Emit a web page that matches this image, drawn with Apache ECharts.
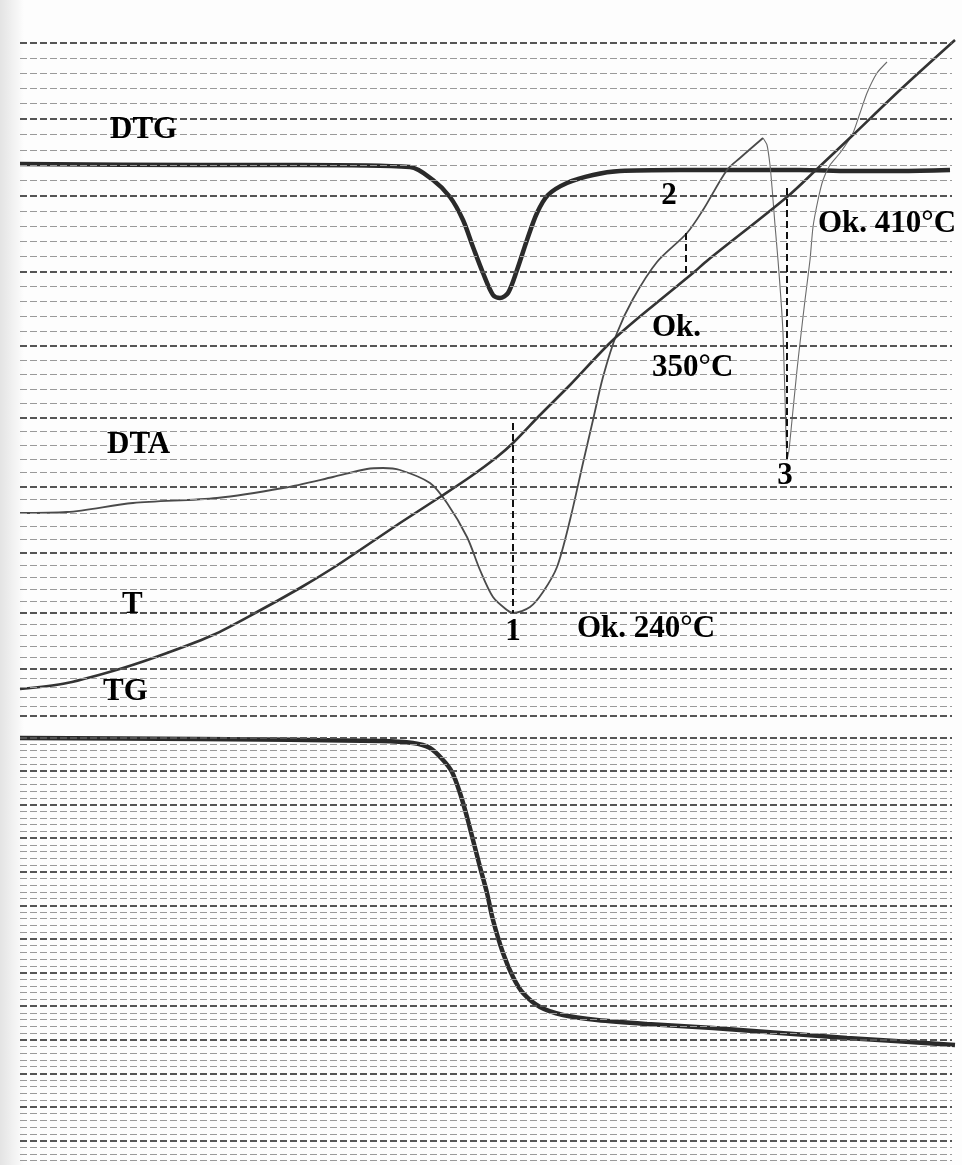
<!DOCTYPE html>
<html>
<head>
<meta charset="utf-8">
<title>DTG / DTA / T / TG</title>
<script src="https://cdn.jsdelivr.net/npm/echarts@6/dist/echarts.min.js"></script>
<style>
  html, body { margin: 0; padding: 0; background: #fff; }
  #main { width: 962px; height: 1165px; }
</style>
</head>
<body>
<div id="main"></div>
<script type="text/javascript">
// chart paper is read as one coordinate frame: x across, y down the sheet
// DTG (thick, top)
var dtgCurve = [[20,164],[200,165],[300,165],[410,167],[433,180],[450,197],[463,220],[473,247],
  [483,273],[493,295],[500,298],[508,293],[517,270],[527,240],[537,213],[548,195],[567,183],
  [593,175],[620,171],[680,170],[760,170],[800,170],[850,171],[900,171],[950,170]];
// DTA (thin)
var dtaCurve = [[20,513],[67,512],[133,503],[217,498],[283,488],[333,477],[367,469],[383,468],
  [400,470],[430,483],[447,503],[467,537],[480,570],[493,597],[507,610],[513,613],[530,607],
  [543,592],[557,567],[570,520],[583,463],[593,420],[603,377],[617,333],[633,299],[657,262],
  [687,233],[703,210],[727,170],[740,158],[763,138]];
// DTA sharp peak 3
var dtaPeak3 = [[763,138],[767,145],[770,165],[772,187],[775,225],[778,260],[781,300],[783,333],
  [785,397],[787,460],[789,450],[793,410],[797,370],[800,343],[805,300],[810,260],[813,227],
  [818,200],[823,180],[830,165],[840,153],[853,133],[860,113],[867,93],[877,73],[887,62]];
// T (temperature)
var tCurve = [[20,689],[67,683],[123,668],[167,653],[213,635],[257,612],[300,588],[333,568],
  [360,550],[400,523],[440,497],[470,477],[497,457],[513,443],[540,415],[570,385],[613,340],
  [660,300],[693,273],[708,260],[787,197],[817,169],[853,135],[900,90],[955,40]];
// TG (thick, bottom)
var tgCurve = [[20,738],[200,739],[380,741],[413,743],[430,748],[443,760],[452,772],[460,793],
  [467,817],[473,840],[480,867],[487,893],[493,920],[503,953],[513,977],[523,993],[540,1007],
  [563,1015],[597,1020],[647,1024],[713,1028],[780,1033],[847,1038],[895,1041],[955,1045]];

// peak markers: x, top, bottom
var peakMarkers = [[513,423,613],[686,233,275],[787,188,460]];

// labels: x, y (middle), text, align
var labels = [
  [110,130,'DTG','left'],
  [107,445,'DTA','left'],
  [122,605,'T','left'],
  [103,692,'TG','left'],
  [513,632,'1','center'],
  [669,196,'2','center'],
  [785,476,'3','center'],
  [577,629,'Ok. 240°C','left'],
  [652,328,'Ok.','left'],
  [652,368,'350°C','left'],
  [818,224,'Ok. 410°C','left']
];

// heavy rules of the chart paper (every fifth line)
var majorRulesUpper = [42.7,119,196,271.7,345.7,417.5,486.5,552.7,613,668.3,716];
var majorRulesLower = [737.3,770.9,804.5,838.1,871.7,905.3,938.9,972.5,1006.1,1039.7,1073.3,1106.9,1140.5];

function minorRules(majors, tail) {
  var out = [];
  for (var i = 0; i < majors.length - 1; i++) {
    var step = (majors[i+1] - majors[i]) / 5;
    for (var k = 1; k < 5; k++) out.push(majors[i] + step * k);
  }
  if (tail) {
    var last = majors[majors.length-1];
    var st = (last - majors[majors.length-2]) / 5;
    for (var j = 1; j <= tail; j++) out.push(last + st * j);
  }
  return out;
}

function ruleLines(ys) {
  return ys.map(function (y) { return [{coord:[20,y]},{coord:[952,y]}]; });
}

var majors = majorRulesUpper.concat(majorRulesLower);
var minors = minorRules(majorRulesUpper, 0).concat(minorRules(majorRulesLower, 3));

var myChart = echarts.init(document.getElementById('main'));

var curveBase = {
  type: 'line', showSymbol: false, symbol: 'none', smooth: 0.3, silent: true
};

var option = {
  animation: false,
  backgroundColor: '#fdfdfd',
  grid: { left: 0, right: 0, top: 0, bottom: 0 },
  xAxis: { type: 'value', min: 0, max: 962, show: false },
  yAxis: { type: 'value', min: 0, max: 1165, inverse: true, show: false },
  graphic: [{
    type: 'rect', left: 0, top: 0, z: -10,
    shape: { width: 24, height: 1165 },
    style: { fill: new echarts.graphic.LinearGradient(0, 0, 1, 0, [
      { offset: 0, color: 'rgba(0,0,0,0.10)' }, { offset: 1, color: 'rgba(0,0,0,0)' }]) }
  }],
  series: [
    {
      type: 'line', data: [], silent: true,
      markLine: { symbol: 'none', silent: true, label: { show: false },
        lineStyle: { color: '#9a9a9a', width: 1.2, type: [7, 3] },
        data: ruleLines(minors) }
    },
    {
      type: 'line', data: [], silent: true,
      markLine: { symbol: 'none', silent: true, label: { show: false },
        lineStyle: { color: '#555', width: 2, type: [7, 3] },
        data: ruleLines(majors) }
    },
    {
      type: 'line', data: [], silent: true,
      markLine: { symbol: 'none', silent: true, label: { show: false },
        lineStyle: { color: '#111', width: 2, type: [7, 4] },
        data: peakMarkers.map(function (m) { return [{coord:[m[0],m[1]]},{coord:[m[0],m[2]]}]; }) }
    },
    Object.assign({}, curveBase, { name: 'DTG', data: dtgCurve, lineStyle: { color: '#2a2a2a', width: 4.5 } }),
    Object.assign({}, curveBase, { name: 'DTA', data: dtaCurve, lineStyle: { color: '#4a4a4a', width: 1.8 } }),
    Object.assign({}, curveBase, { name: 'DTA3', data: dtaPeak3, smooth: 0.2, lineStyle: { color: '#6a6a6a', width: 1.1 } }),
    Object.assign({}, curveBase, { name: 'T', data: tCurve, lineStyle: { color: '#333', width: 2.6 } }),
    Object.assign({}, curveBase, { name: 'TG', data: tgCurve, lineStyle: { color: '#2a2a2a', width: 4.5 } }),
    {
      type: 'scatter', silent: true, symbolSize: 0,
      data: labels.map(function (l) {
        return { value: [l[0], l[1]], name: l[2], label: { align: l[3] } };
      }),
      label: {
        show: true, position: [0, 0],
        formatter: function (p) { return p.name; },
        fontFamily: '"Liberation Serif", "Times New Roman", serif',
        fontWeight: 'bold', fontSize: 31, color: '#000', opacity: 1,
        textBorderWidth: 0, verticalAlign: 'middle'
      },
      z: 10
    }
  ]
};

myChart.setOption(option);
</script>
</body>
</html>
